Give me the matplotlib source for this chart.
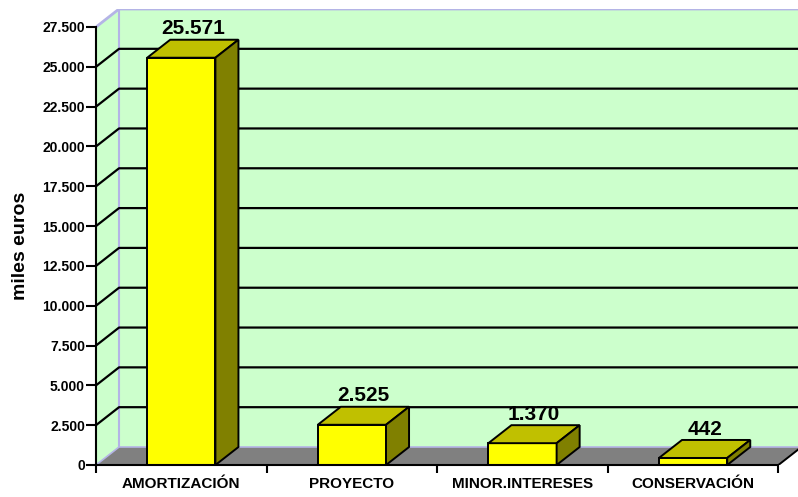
import matplotlib
matplotlib.use('Agg')
import matplotlib.pyplot as plt
from matplotlib.patches import Polygon

plt.rcParams['font.family'] = ['Liberation Sans', 'DejaVu Sans']
plt.rcParams['font.weight'] = 'bold'

categories = ['AMORTIZACIÓN', 'PROYECTO', 'MINOR.INTERESES', 'CONSERVACIÓN']
values = [25571, 2525, 1370, 442]
value_labels = ['25.571', '2.525', '1.370', '442']
yticks = list(range(0, 27501, 2500))
ytick_labels = ['{:,}'.format(t).replace(',', '.') for t in yticks]

# 3d look: depth offset in data units
dx = 0.135
dy = 1130
bw = 0.4
ymax = 27500
x_left = -0.5
x_right = len(categories) - 0.5

green = '#CCFFCC'
lav = '#B4B4E6'
floor = '#808080'
front = '#FFFF00'
top = '#C0C000'
side = '#808000'

fig = plt.figure(figsize=(7.98, 4.97), dpi=100)
ax = fig.add_axes([96 / 798, 32 / 497, 702 / 798, 456 / 497])
ax.set_xlim(x_left, x_left + 702 / 170.6)
ax.set_ylim(0, 456 / (438 / ymax))

# walls
ax.add_patch(Polygon([(x_left + dx, dy), (x_right + dx, dy), (x_right + dx, ymax + dy),
                      (x_left + dx, ymax + dy)], closed=True, fc=green, ec='none', zorder=0))
ax.add_patch(Polygon([(x_left, 0), (x_left, ymax), (x_left + dx, ymax + dy), (x_left + dx, dy)],
                     closed=True, fc=green, ec='none', zorder=0))
ax.plot([x_left, x_left + dx, x_right + dx], [ymax, ymax + dy, ymax + dy], color=lav, lw=2, zorder=1)
ax.plot([x_left + dx, x_left + dx], [dy, ymax + dy], color=lav, lw=1.5, zorder=1)

# gridlines
for t in yticks[1:-1]:
    ax.plot([x_left, x_left + dx, x_right + dx], [t, t + dy, t + dy], color='black', lw=1.6, zorder=1)

# floor
ax.add_patch(Polygon([(x_left, 0), (x_right, 0), (x_right + dx, dy), (x_left + dx, dy)],
                     closed=True, fc=floor, ec='none', zorder=2))
ax.plot([x_left, x_left + dx, x_right + dx], [0, dy, dy], color=lav, lw=1.2, zorder=2)
ax.plot([x_right, x_right + dx], [0, dy], color='black', lw=1.4, zorder=2)

# bars
for i, (v, lab) in enumerate(zip(values, value_labels)):
    x0, x1 = i - bw / 2, i + bw / 2
    kw = dict(closed=True, ec='black', lw=1.4, joinstyle='miter', zorder=3 + i)
    ax.add_patch(Polygon([(x0, 0), (x1, 0), (x1, v), (x0, v)], fc=front, **kw))
    ax.add_patch(Polygon([(x0, v), (x1, v), (x1 + dx, v + dy), (x0 + dx, v + dy)], fc=top, **kw))
    ax.add_patch(Polygon([(x1, 0), (x1 + dx, dy), (x1 + dx, v + dy), (x1, v)], fc=side, **kw))
    ax.annotate(lab, (i + dx / 2, v + dy), xytext=(0, 1), textcoords='offset points',
                ha='center', va='bottom', fontsize=15, fontweight='bold', zorder=10)

# axes
for s in ['top', 'right']:
    ax.spines[s].set_visible(False)
ax.spines['left'].set_bounds(0, ymax)
ax.spines['bottom'].set_bounds(x_left, x_right)
ax.spines['left'].set_linewidth(1.5)
ax.spines['bottom'].set_linewidth(1.5)
ax.spines['left'].set_zorder(20)
ax.spines['bottom'].set_zorder(20)

ax.set_yticks(yticks)
ax.set_yticklabels(ytick_labels, fontsize=10, fontweight='bold')
ax.tick_params(axis='y', length=7, width=1.5, pad=1)

ax.set_xticks([i - 0.5 for i in range(len(categories) + 1)])
ax.set_xticklabels([])
ax.set_xticks(range(len(categories)), minor=True)
ax.set_xticklabels(categories, minor=True, fontsize=11, fontweight='bold')
ax.tick_params(axis='x', which='major', length=6, width=1.5)
ax.tick_params(axis='x', which='minor', length=0, pad=9)

fig.text(21 / 798, 1 - 246 / 497, 'miles euros', rotation=90, ha='center', va='center',
         fontsize=14, fontweight='bold')

fig.savefig('out.png', dpi=100)
